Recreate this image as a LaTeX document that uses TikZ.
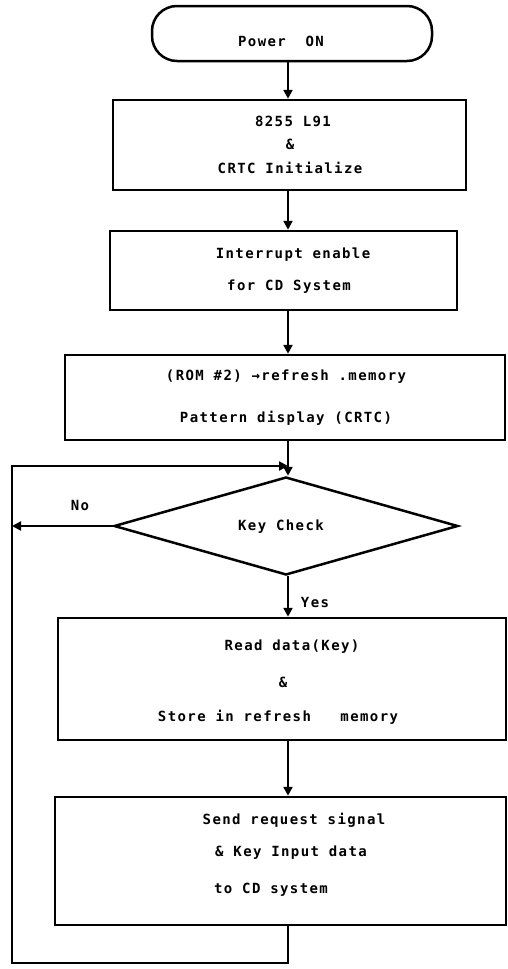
\documentclass[tikz,border=0pt]{standalone}
\usepackage{fontspec}
\usetikzlibrary{arrows.meta,shapes.geometric}
\newfontfamily\plotfont{DejaVu Sans Mono}[LetterSpace=10]
\begin{document}
\begin{tikzpicture}[x=1pt,y=-1pt,
  box/.style={draw, line width=2.5pt, rectangle, inner sep=0pt},
  term/.style={draw, line width=2.5pt, rectangle, rounded corners=25pt, inner sep=0pt},
  dia/.style={draw, line width=2.5pt, diamond, inner sep=0pt},
  txt/.style={font={\fontsize{14}{16}\selectfont\plotfont\bfseries}, inner sep=0pt},
  arr/.style={-{Triangle[length=9pt,width=9pt]}, line width=2.5pt, line join=miter}]
\fill[white] (0,0) rectangle (508,969);
\useasboundingbox (0,0) rectangle (508,969);
\coordinate (X) at (288,0);
% start
\node[term, minimum width=280, minimum height=55] (pw) at (292,33.5) {};
\node[txt] (pwt) at (281,41) {Power\ \ ON};
% box 1
\node[box, minimum width=353, minimum height=90] (b1) at (289.5,145) {};
\node[txt] (t1a) at (293,121) {8255 L91};
\node[txt] (t1b) at (290,144) {\&};
\node[txt] (t1c) at (290,168) {CRTC Initialize};
% box 2
\node[box, minimum width=347, minimum height=79] (b2) at (283.5,270.5) {};
\node[txt] (t2a) at (293,255) {Interrupt enable};
\node[txt] (t2b) at (289,287) {for CD System};
% box 3
\node[box, minimum width=440, minimum height=85] (b3) at (285,397.5) {};
\node[txt] (t3a) at (286,377) {(ROM \#2) →refresh .memory};
\node[txt] (t3b) at (286,418) {Pattern display (CRTC)};
% decision
\node[dia, minimum width=344, minimum height=98] (d) at (286,526) {};
\node[txt] (dt) at (281,527) {Key Check};
\node[txt] (no) at (80,505) {No};
\node[txt] (yes) at (315,602) {Yes};
% box 4
\node[box, minimum width=448, minimum height=122] (b4) at (282,679) {};
\node[txt] (t4a) at (292,647) {Read data(Key)};
\node[txt] (t4b) at (283,682) {\&};
\node[txt] (t4c) at (278,717) {Store in refresh\ \ \ memory};
% box 5
\node[box, minimum width=451, minimum height=128] (b5) at (280.5,861) {};
\node[txt] (t5a) at (294,820) {Send request signal};
\node[txt] (t5b) at (291,853) {\& Key Input data};
\node[txt] (t5c) at (271,890) {to CD system};
% loop coordinates
\coordinate (lb) at (288,963);
\coordinate (ll) at (12,963);
\coordinate (lt) at (12,466);
\coordinate (li) at (288,466);
% connectors
\draw[arr] (pw.south -| X) -- (b1.north -| X);
\draw[arr] (b1.south -| X) -- (b2.north -| X);
\draw[arr] (b2.south -| X) -- (b3.north -| X);
\draw[arr] (b3.south -| X) -- (d.north -| X);
\draw[arr] (d.south -| X) -- (b4.north -| X);
\draw[arr] (b4.south -| X) -- (b5.north -| X);
\draw[arr] (b5.south -| X) -- (lb) -- (ll) -- (lt) -- (li);
\draw[arr] (d.west) -- (d.west -| lt);
\end{tikzpicture}
\end{document}
